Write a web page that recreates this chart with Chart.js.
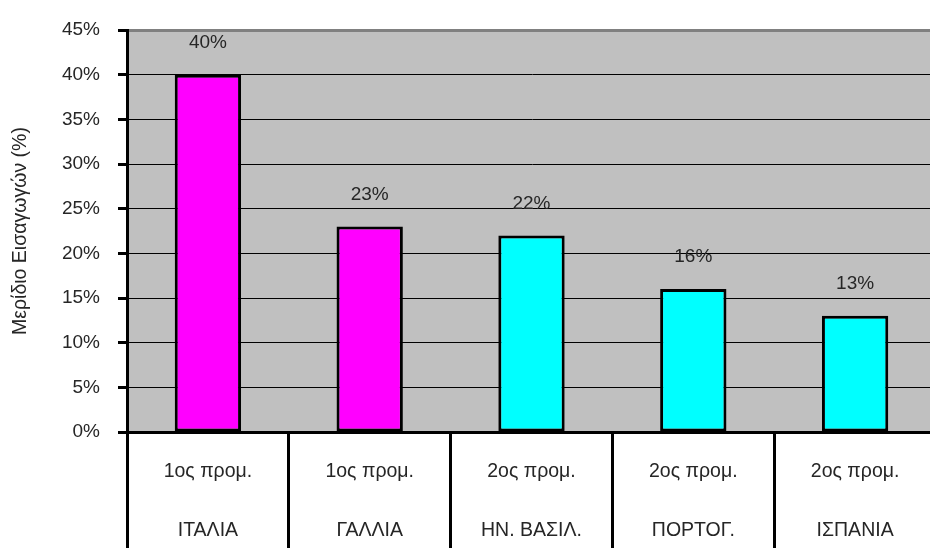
<!DOCTYPE html>
<html>
<head>
<meta charset="utf-8">
<script src="https://cdn.jsdelivr.net/npm/chart.js@4/dist/chart.umd.min.js"></script>
<style>
html,body{margin:0;padding:0;background:#fff;overflow:hidden;width:930px;height:548px;}
canvas{display:block;}
</style>
</head>
<body>
<canvas id="c" width="936" height="548"></canvas>
<script>
const rankLabels = ['1ος προμ.', '1ος προμ.', '2ος προμ.', '2ος προμ.', '2ος προμ.'];
const countries = ['ΙΤΑΛΙΑ', 'ΓΑΛΛΙΑ', 'ΗΝ. ΒΑΣΙΛ.', 'ΠΟΡΤΟΓ.', 'ΙΣΠΑΝΙΑ'];
const shares = [40, 23, 22, 16, 13];
const barColors = ['#FF00FF', '#FF00FF', '#00FFFF', '#00FFFF', '#00FFFF'];
const yAxisTitle = 'Μερίδιο Εισαγωγών (%)';

const FONT = "'Liberation Sans', Arial, sans-serif";
const TEXT = '#262626';

const bgPlugin = {
  id: 'bg',
  beforeDraw(chart) {
    const {ctx, chartArea: a} = chart;
    ctx.save();
    ctx.fillStyle = '#C0C0C0';
    ctx.fillRect(a.left, a.top, a.right - a.left, a.bottom - a.top);
    ctx.restore();
  }
};

const labelPlugin = {
  id: 'vals',
  afterDatasetsDraw(chart) {
    const {ctx} = chart;
    const meta = chart.getDatasetMeta(0);
    ctx.save();
    ctx.font = '19px ' + FONT;
    ctx.fillStyle = TEXT;
    ctx.textAlign = 'center';
    ctx.textBaseline = 'middle';
    meta.data.forEach((bar, i) => {
      ctx.fillText(shares[i] + '%', bar.x, bar.y - 32);
    });
    ctx.restore();
  }
};

new Chart(document.getElementById('c'), {
  type: 'bar',
  data: {
    labels: rankLabels.map((r, i) => [r, countries[i]]),
    datasets: [{
      data: shares,
      backgroundColor: barColors,
      borderColor: '#000',
      borderWidth: 3,
      borderSkipped: false,
      barPercentage: 0.41,
      categoryPercentage: 1.0
    }]
  },
  options: {
    responsive: false,
    animation: false,
    devicePixelRatio: 1,
    layout: {padding: {top: 30, left: 0, right: 0, bottom: 0}},
    plugins: {legend: {display: false}, tooltip: {enabled: false}},
    scales: {
      x: {
        grid: {
          offset: true,
          drawOnChartArea: false,
          drawTicks: true,
          tickLength: 116,
          color: '#000',
          lineWidth: 3,
          tickWidth: 3,
          tickColor: '#000'
        },
        border: {display: true, color: '#000', width: 3},
        ticks: {
          padding: -105.5,
          color: TEXT,
          font: {family: FONT, size: 19.5, lineHeight: 59 / 19.5},
          maxRotation: 0,
          autoSkip: false
        },
        afterFit(scale) { scale.height = 116; }
      },
      y: {
        min: 0,
        max: 45,
        ticks: {
          stepSize: 5,
          padding: 18,
          color: TEXT,
          font: {family: FONT, size: 19},
          callback: v => v + '%'
        },
        grid: {
          color: ctx => (ctx.tick && ctx.tick.value === 45) ? '#808080' : '#000',
          lineWidth: ctx => (ctx.tick && ctx.tick.value === 45) ? 3 : 1,
          drawTicks: true,
          tickLength: 9,
          tickWidth: 3,
          tickColor: '#000'
        },
        border: {display: true, color: '#000', width: 3},
        title: {
          display: true,
          text: yAxisTitle,
          color: TEXT,
          font: {family: FONT, size: 19.5},
          padding: {top: 9, bottom: 0}
        },
        afterFit(scale) { scale.width = 127; }
      }
    }
  },
  plugins: [bgPlugin, labelPlugin]
});
</script>
</body>
</html>
